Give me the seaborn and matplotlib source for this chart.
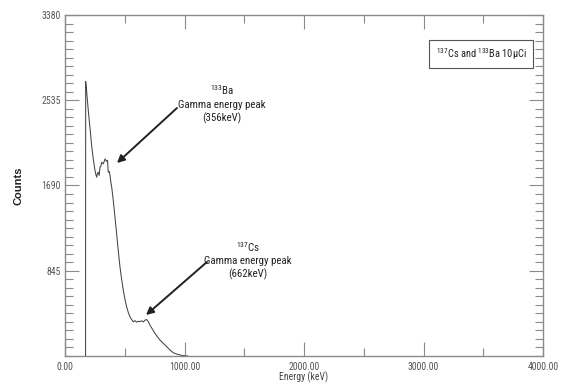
import matplotlib
matplotlib.use("Agg")
import matplotlib.pyplot as plt
import seaborn as sns
import pandas as pd
from matplotlib import font_manager
from matplotlib.ticker import MultipleLocator, FixedLocator

# Data
energy_kev = [172, 173, 180, 195, 210, 223, 237, 251, 258,
              265, 272, 279, 286, 293, 300, 307, 321, 335, 348,
              356, 362, 370, 377, 384, 391, 404, 418, 432, 446,
              460, 474, 488, 502, 516, 530, 544, 558, 572, 586,
              600, 614, 628, 642, 656, 670, 683, 697, 711, 732,
              753, 774, 795, 823, 851, 878, 906, 934, 962, 990,
              1018, 1030]
counts = [0, 2720, 2640, 2431, 2250, 2085, 1950, 1838, 1800,
          1772, 1810, 1821, 1790, 1871, 1880, 1920, 1905, 1953, 1930,
          1940, 1821, 1830, 1789, 1720, 1673, 1542, 1377, 1213, 1040,
          883, 760, 652, 560, 487, 430, 388, 360, 339, 350,
          335, 345, 340, 349, 338, 355, 362, 340, 306, 265,
          224, 190, 158, 125, 92, 60, 33, 20, 10, 4,
          0, 0]
x_ticks = [0, 1000, 2000, 3000, 4000]
x_tick_labels = ["0.00", "1000.00", "2000.00", "3000.00", "4000.00"]
y_ticks = [845, 1690, 2535, 3380]
y_tick_labels = ["845", "1690", "2535", "3380"]

df = pd.DataFrame({"Energy (keV)": energy_kev, "Counts": counts})

sns.set_theme(style="white")


def pick(cands):
    for c in cands:
        try:
            font_manager.findfont(font_manager.FontProperties(family=c),
                                  fallback_to_default=False)
            return c
        except Exception:
            pass
    return "DejaVu Sans"


narrow_name = pick(["Liberation Sans Narrow", "DejaVu Sans Condensed",
                    "Roboto Condensed", "Open Sans Condensed", "Liberation Sans"])
narrow = [narrow_name, "DejaVu Sans"]
plt.rcParams["font.family"] = narrow
plt.rcParams["mathtext.fontset"] = "custom"
plt.rcParams["mathtext.rm"] = narrow_name
plt.rcParams["mathtext.it"] = narrow_name

fig = plt.figure(figsize=(5.68, 3.86), dpi=100)
ax = fig.add_axes([65/568, 30/386, 478/568, 341/386])

sns.lineplot(data=df, x="Energy (keV)", y="Counts", ax=ax,
             color="#444444", linewidth=0.75, estimator=None)

ax.set_xlim(0, 4000)
ax.set_ylim(0, 3380)

spine_col = "#8a8a8a"
for s in ax.spines.values():
    s.set_color(spine_col)
    s.set_linewidth(1.0)
    s.set_visible(True)

ax.xaxis.set_major_locator(FixedLocator(x_ticks))
ax.set_xticklabels(x_tick_labels)
ax.xaxis.set_minor_locator(MultipleLocator(500))
ax.yaxis.set_major_locator(FixedLocator(y_ticks))
ax.set_yticklabels(y_tick_labels)
ax.yaxis.set_minor_locator(MultipleLocator(84.5))

ax.tick_params(which="both", direction="in", top=True, right=True,
               bottom=True, left=True, color=spine_col, width=0.8,
               labelcolor="#555555", labelsize=7)
ax.tick_params(which="major", length=10)
ax.tick_params(which="minor", length=6)
ax.tick_params(axis="x", which="major", pad=4)
ax.tick_params(axis="y", which="major", pad=3)
ax.tick_params(labelright=False, labeltop=False)

ax.set_xlabel("Energy (keV)", fontsize=7, color="#444444", labelpad=0)
ax.set_ylabel("Counts", fontsize=8, fontweight="bold",
              family=["Liberation Sans", "DejaVu Sans"], color="#222222")
ax.yaxis.set_label_coords(-0.086, 0.5)

arrow_kw = dict(arrowstyle="-|>", color="#222222", lw=1.4,
                mutation_scale=11, shrinkA=0, shrinkB=0)

ax.text(1314, 2500, "$^{133}$Ba\nGamma energy peak\n(356keV)",
        ha="center", va="center", fontsize=7.8, color="#222222",
        linespacing=1.3)
ax.annotate("", xy=(435, 1913), xytext=(937, 2458), arrowprops=arrow_kw)

ax.text(1531, 952, "$^{137}$Cs\nGamma energy peak\n(662keV)",
        ha="center", va="center", fontsize=7.8, color="#222222",
        linespacing=1.3)
ax.annotate("", xy=(678, 406), xytext=(1188, 932), arrowprops=arrow_kw)

ax.text(3481, 2993, "$^{137}$Cs and $^{133}$Ba 10μCi", ha="center",
        va="center", fontsize=7.5, color="#222222",
        bbox=dict(boxstyle="square,pad=0.6", fc="white", ec="#555555", lw=0.8))

fig.savefig("out.png", dpi=100)
